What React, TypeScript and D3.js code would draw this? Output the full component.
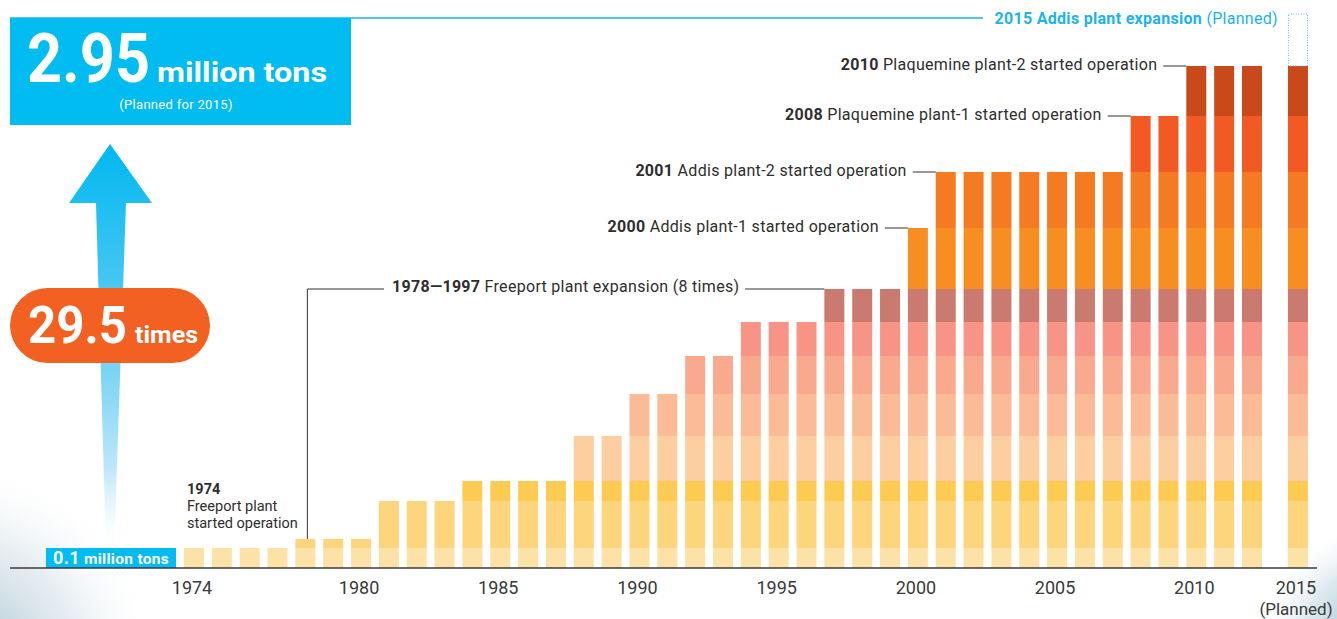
import React from "react";
import * as d3 from "d3";

// ---------- DATA ----------
const years: number[] = d3.range(1974, 2013);
const planYear = 2015;
// capacity additions (million tons, as drawn) and the year each came on line
const layerKeys = ["f1974", "f1978", "f1981", "f1984", "f1988", "f1990", "f1992", "f1994", "f1997", "a2000", "a2001", "p2008", "p2010"];
const layerStart = [1974, 1978, 1981, 1984, 1988, 1990, 1992, 1994, 1997, 2000, 2001, 2008, 2010];
const layerValue = [0.1, 0.045, 0.19, 0.1, 0.225, 0.21, 0.19, 0.17, 0.165, 0.305, 0.28, 0.28, 0.25];
const layerColor = ["#FDE2A7", "#FDD57C", "#FDD57C", "#FECB52", "#FDCFA0", "#FBBB96", "#F9A98E", "#F79486", "#CA7A6E", "#F68E22", "#F47B21", "#F15A22", "#C84A1A"];
const plannedValue = 0.26;
const tickYears = [1974, 1980, 1985, 1990, 1995, 2000, 2005, 2010, 2015];

const annotations = [
  { year: 2000, bold: "2000", text: " Addis plant-1 started operation" },
  { year: 2001, bold: "2001", text: " Addis plant-2 started operation" },
  { year: 2008, bold: "2008", text: " Plaquemine plant-1 started operation" },
  { year: 2010, bold: "2010", text: " Plaquemine plant-2 started operation" },
];

const W = 1337;
const H = 619;
const FONT = "Roboto, 'Open Sans', sans-serif";

export default function App() {
  const baseY = 568;
  const y = d3.scaleLinear().domain([0, 2.8]).range([baseY, baseY - 560]);
  // 2015 column sits closer than a full 3-slot gap
  const slot = (yr: number) => (yr === planYear ? 2013.65 : yr);
  const x = d3.scaleLinear().domain([1974, 2012]).range([194, 1252]);
  const barW = 20;

  const allYears = [...years, planYear];
  const rows = allYears.map((yr) => {
    const r: any = { year: yr };
    layerKeys.forEach((k, i) => (r[k] = yr >= layerStart[i] ? layerValue[i] : 0));
    return r;
  });
  const stack = d3.stack<any>().keys(layerKeys)(rows);

  const total = (yr: number) => layerValue.reduce((s, v, i) => s + (yr >= layerStart[i] ? v : 0), 0);
  const xc = (yr: number) => x(slot(yr));
  const barLeft = (yr: number) => xc(yr) - barW / 2;

  const textColor = "#2E2E2E";
  const cyan = "#00BCF0";

  // Freeport bracket
  const fpTop = y(total(1997));
  const fpX = xc(1978) + 2;

  return (
    <svg width={W} height={H} style={{ position: "absolute", left: 0, top: 0, background: "#fff" }} fontFamily={FONT}>
      <defs>
        <linearGradient id="arrowGrad" x1="0" y1="144" x2="0" y2="550" gradientUnits="userSpaceOnUse">
          <stop offset="0" stopColor="#00B8F0" />
          <stop offset="0.45" stopColor="#5CCBF3" />
          <stop offset="0.8" stopColor="#BDE7FA" />
          <stop offset="1" stopColor="#FFFFFF" stopOpacity="0.2" />
        </linearGradient>
        <radialGradient id="cornerL" cx="-40" cy="660" r="200" gradientUnits="userSpaceOnUse">
          <stop offset="0" stopColor="#8FB0C2" stopOpacity="0.85" />
          <stop offset="0.6" stopColor="#C3D5DF" stopOpacity="0.4" />
          <stop offset="1" stopColor="#FFFFFF" stopOpacity="0" />
        </radialGradient>
        <radialGradient id="cornerR" cx="1375" cy="640" r="120" gradientUnits="userSpaceOnUse">
          <stop offset="0" stopColor="#8FB3C6" stopOpacity="0.95" />
          <stop offset="0.6" stopColor="#BCD3DF" stopOpacity="0.5" />
          <stop offset="1" stopColor="#FFFFFF" stopOpacity="0" />
        </radialGradient>
      </defs>

      <rect x={0} y={0} width={W} height={H} fill="#fff" />
      <rect x={0} y={400} width={260} height={219} fill="url(#cornerL)" />
      <rect x={1200} y={480} width={137} height={139} fill="url(#cornerR)" />

      {/* top line and headline box */}
      <line x1={10} x2={983} y1={18} y2={18} stroke="#1CB5EA" strokeWidth={1.6} />
      <rect x={10} y={18} width={341} height={107} fill={cyan} />
      <text x={27} y={82} fill="#fff" fontWeight={700} fontSize={68} textLength={123} lengthAdjust="spacingAndGlyphs">2.95</text>
      <text x={157} y={82} fill="#fff" fontWeight={700} fontSize={27} textLength={170} lengthAdjust="spacingAndGlyphs">million tons</text>
      <text x={176} y={109} fill="#fff" fontSize={13} textAnchor="middle" letterSpacing={0.3}>(Planned for 2015)</text>

      {/* arrow */}
      <path d="M110,144 L152,203 L126,203 L114,550 L106,550 L96,203 L69,203 Z" fill="url(#arrowGrad)" />

      {/* 29.5 times pill */}
      <rect x={10} y={288} width={200} height={75} rx={37.5} fill="#F26122" />
      <text x={28} y={343} fill="#fff" fontWeight={700} fontSize={52} textLength={99} lengthAdjust="spacingAndGlyphs">29.5</text>
      <text x={135} y={343} fill="#fff" fontWeight={700} fontSize={23} textLength={63} lengthAdjust="spacingAndGlyphs">times</text>

      {/* bars */}
      {stack.map((layer, li) => (
        <g key={layerKeys[li]} fill={layerColor[li]}>
          {layer.map((d: any) =>
            d[1] - d[0] > 0 ? (
              <rect key={d.data.year} x={barLeft(d.data.year)} y={y(d[1])} width={barW} height={y(d[0]) - y(d[1])} />
            ) : null
          )}
        </g>
      ))}

      {/* planned 2015 expansion */}
      <rect
        x={barLeft(planYear) + 0.5}
        y={y(total(planYear) + plannedValue)}
        width={barW - 1}
        height={y(total(planYear)) - y(total(planYear) + plannedValue)}
        fill="none"
        stroke="#4FC3F0"
        strokeWidth={1}
        strokeDasharray="1,1.5"
      />
      <text x={1278} y={24} textAnchor="end" fontSize={16} letterSpacing={0.3}>
        <tspan fill="#1AB4EA" fontWeight={700}>2015 Addis plant expansion </tspan>
        <tspan fill="#1AB4EA">(Planned)</tspan>
      </text>

      {/* 0.1 million tons */}
      <rect x={46} y={y(layerValue[0])} width={130} height={y(0) - y(layerValue[0])} fill={cyan} />
      <text x={53} y={564} fill="#fff" fontWeight={700} letterSpacing={0.3}>
        <tspan fontSize={18}>0.1</tspan>
        <tspan fontSize={15.5}> million tons</tspan>
      </text>

      {/* axis */}
      <line x1={10} x2={1317} y1={baseY} y2={baseY} stroke="#3A3A3A" strokeWidth={1.5} />
      {tickYears.map((t) => (
        <text key={t} x={xc(t) - 2} y={594} textAnchor="middle" fontSize={18} fill="#3A3A3A">
          {t}
        </text>
      ))}
      <text x={1296} y={615} textAnchor="middle" fontSize={17} fill="#3A3A3A">(Planned)</text>

      {/* 1974 annotation */}
      <text x={187} y={494} fontSize={14.5} fill={textColor}>
        <tspan x={187} fontWeight={700}>1974</tspan>
        <tspan x={187} dy={17}>Freeport plant</tspan>
        <tspan x={187} dy={17}>started operation</tspan>
      </text>

      {/* Freeport expansion bracket */}
      <path
        d={`M${fpX},${y(total(1978))} V${fpTop} H384 M745,${fpTop} H${barLeft(1997)}`}
        fill="none"
        stroke="#333"
        strokeWidth={1}
      />
      <text x={392} y={292} fontSize={16} letterSpacing={0.3} fill={textColor}>
        <tspan fontWeight={700}>1978—1997</tspan>
        <tspan> Freeport plant expansion (8 times)</tspan>
      </text>

      {/* plant start annotations */}
      {annotations.map((a) => {
        const yy = y(total(a.year));
        const lx2 = barLeft(a.year);
        const lx1 = lx2 - 23;
        return (
          <g key={a.year}>
            <line x1={lx1} x2={lx2} y1={yy} y2={yy} stroke="#333" strokeWidth={1} />
            <text x={lx1 - 6} y={yy + 4} textAnchor="end" fontSize={16} letterSpacing={0.3} fill={textColor}>
              <tspan fontWeight={700}>{a.bold}</tspan>
              <tspan>{a.text}</tspan>
            </text>
          </g>
        );
      })}
    </svg>
  );
}
